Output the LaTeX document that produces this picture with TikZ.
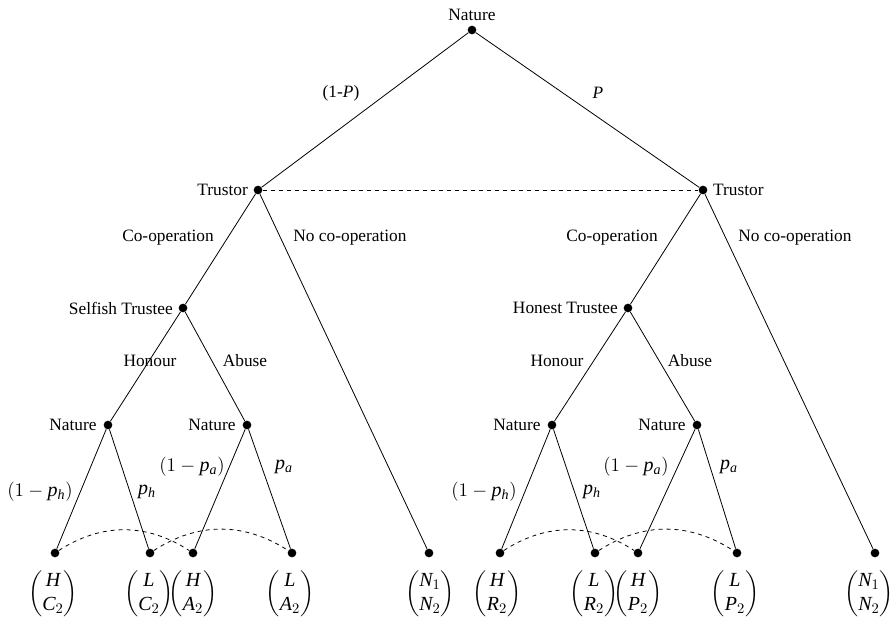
\documentclass[tikz,border=0pt]{standalone}
\usepackage{amsmath}
\usepackage{fontspec}
\setmainfont{Liberation Serif}
\usetikzlibrary{positioning}
\newcommand{\vi}[1]{\mathit{#1}}
\tikzset{
  dot/.style={circle,fill,inner sep=0pt,minimum size=6.5pt},
  txt/.style={font=\fontsize{13}{15}\selectfont,inner sep=1pt},
  mth/.style={font=\fontsize{15}{18}\selectfont,inner sep=0pt},
  branch/.style={line width=0.6pt},
  info/.style={line width=0.6pt,dashed},
}

\begin{document}
\begin{tikzpicture}[x=0.75pt,y=-0.75pt]
  \useasboundingbox (0,0) rectangle (894,631);

  % decision nodes
  \node[dot,label={[txt,label distance=2pt]above:Nature}] (nat) at (472,30) {};
  \node[dot,label={[txt,label distance=3pt]left:Trustor}] (trL) at (258,190) {};
  \node[dot,label={[txt,label distance=3pt]right:Trustor}] (trR) at (703,190) {};
  \node[dot,label={[txt,label distance=3pt]left:Selfish Trustee}] (selfish) at (183,308) {};
  \node[dot,label={[txt,label distance=3pt]left:Honest Trustee}] (honest) at (628,308) {};
  \node[dot,label={[txt,label distance=4pt]left:Nature}] (natSH) at (108,425) {};
  \node[dot,label={[txt,label distance=4pt]left:Nature}] (natSA) at (247,425) {};
  \node[dot,label={[txt,label distance=4pt]left:Nature}] (natHH) at (552,425) {};
  \node[dot,label={[txt,label distance=4pt]left:Nature}] (natHA) at (697,425) {};

  % end nodes
  \node[dot] (s1) at (55,553) {};
  \node[dot] (s2) at (150,553) {};
  \node[dot] (s3) at (193,553) {};
  \node[dot] (s4) at (292,553) {};
  \node[dot] (nL) at (429,553) {};
  \node[dot] (h1) at (500,553) {};
  \node[dot] (h2) at (595,553) {};
  \node[dot] (h3) at (638,553) {};
  \node[dot] (h4) at (737,553) {};
  \node[dot] (nR) at (875,553) {};

  % payoffs
  \node[mth] (ps1) at (53,594) {$\begin{pmatrix}\vi{H}\\\vi{C}_2\end{pmatrix}$};
  \node[mth] (ps2) at (149,594) {$\begin{pmatrix}\vi{L}\\\vi{C}_2\end{pmatrix}$};
  \node[mth] (ps3) at (193,594) {$\begin{pmatrix}\vi{H}\\\vi{A}_2\end{pmatrix}$};
  \node[mth] (ps4) at (290,594) {$\begin{pmatrix}\vi{L}\\\vi{A}_2\end{pmatrix}$};
  \node[mth] (pnL) at (430,594) {$\begin{pmatrix}\vi{N}_1\\\vi{N}_2\end{pmatrix}$};
  \node[mth] (ph1) at (497,594) {$\begin{pmatrix}\vi{H}\\\vi{R}_2\end{pmatrix}$};
  \node[mth] (ph2) at (594,594) {$\begin{pmatrix}\vi{L}\\\vi{R}_2\end{pmatrix}$};
  \node[mth] (ph3) at (638,594) {$\begin{pmatrix}\vi{H}\\\vi{P}_2\end{pmatrix}$};
  \node[mth] (ph4) at (735,594) {$\begin{pmatrix}\vi{L}\\\vi{P}_2\end{pmatrix}$};
  \node[mth] (pnR) at (869,594) {$\begin{pmatrix}\vi{N}_1\\\vi{N}_2\end{pmatrix}$};

  % branches
  \draw[branch] (nat) -- (trL);
  \draw[branch] (nat) -- (trR);
  \draw[branch] (trL) -- (selfish);
  \draw[branch] (trL) -- (nL);
  \draw[branch] (trR) -- (honest);
  \draw[branch] (trR) -- (nR);
  \draw[branch] (selfish) -- (natSH);
  \draw[branch] (selfish) -- (natSA);
  \draw[branch] (honest) -- (natHH);
  \draw[branch] (honest) -- (natHA);
  \draw[branch] (natSH) -- (s1);
  \draw[branch] (natSH) -- (s2);
  \draw[branch] (natSA) -- (s3);
  \draw[branch] (natSA) -- (s4);
  \draw[branch] (natHH) -- (h1);
  \draw[branch] (natHH) -- (h2);
  \draw[branch] (natHA) -- (h3);
  \draw[branch] (natHA) -- (h4);

  % information sets
  \draw[info] (trL) -- (trR);
  \draw[info] (s1) to[bend left=33] (s3);
  \draw[info] (s2) to[bend left=33] (s4);
  \draw[info] (h1) to[bend left=33] (h3);
  \draw[info] (h2) to[bend left=33] (h4);

  % branch labels
  \node[txt] (lnp) at (341,93) {(1-\textit{P})};
  \node[txt] (lp) at (598,93) {\textit{P}};
  \node[txt] (lcoL) at (168,238) {Co-operation};
  \node[txt] (lncL) at (350,238) {No co-operation};
  \node[txt] (lcoR) at (612,238) {Co-operation};
  \node[txt] (lncR) at (795,238) {No co-operation};
  \node[txt] (lhoL) at (150,361) {Honour};
  \node[txt] (labL) at (245,361) {Abuse};
  \node[txt] (lhoR) at (557,361) {Honour};
  \node[txt] (labR) at (690,361) {Abuse};
  \node[mth] (lph1) at (40,492) {$(1-\vi{p}_{\vi{h}})$};
  \node[mth] (lph2) at (147,492) {$\vi{p}_{\vi{h}}$};
  \node[mth] (lpa1) at (192,467) {$(1-\vi{p}_{\vi{a}})$};
  \node[mth] (lpa2) at (284,467) {$\vi{p}_{\vi{a}}$};
  \node[mth] (rph1) at (484,492) {$(1-\vi{p}_{\vi{h}})$};
  \node[mth] (rph2) at (592,492) {$\vi{p}_{\vi{h}}$};
  \node[mth] (rpa1) at (636,467) {$(1-\vi{p}_{\vi{a}})$};
  \node[mth] (rpa2) at (729,467) {$\vi{p}_{\vi{a}}$};
\end{tikzpicture}
\end{document}
